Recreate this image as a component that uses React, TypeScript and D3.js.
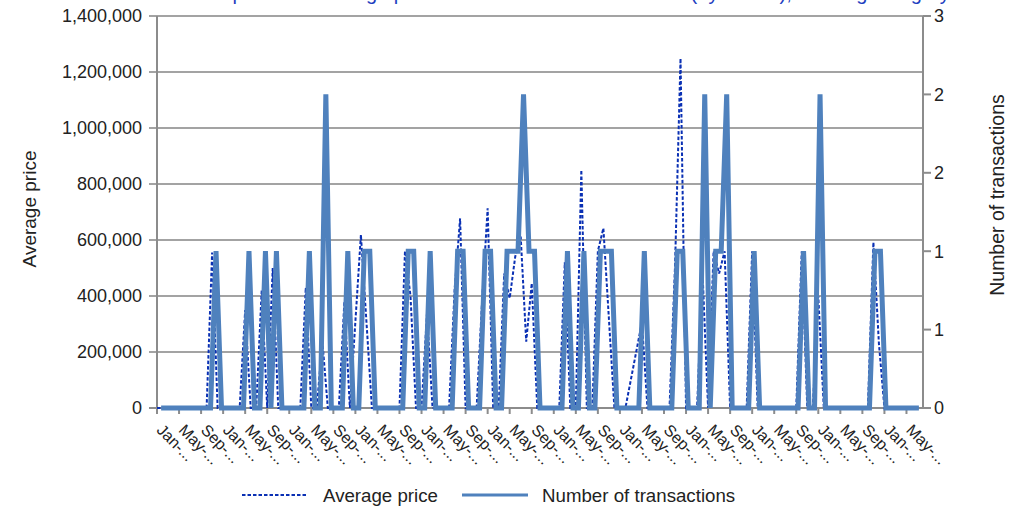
import { useEffect, useRef } from "react";
import * as d3 from "d3";

// Month categories (labels are shown truncated, as in the original)
const monthNames = ["Jan", "Feb", "Mar", "Apr", "May", "Jun", "Jul", "Aug", "Sep", "Oct", "Nov", "Dec"];
const years = ["08", "09", "10", "11", "12", "13", "14", "15", "16", "17", "18", "19"];
const months = years.flatMap((y) => monthNames.map((m) => `${m}-${y}`)).slice(0, 139);

// Number of transactions per month (right axis)
const transactions = [
  0, 0, 0, 0, 0, 0, 0, 0, 0, 0, 1, 0,
  0, 0, 0, 0, 1, 0, 0, 1, 0, 1, 0, 0,
  0, 0, 0, 1, 0, 0, 2, 0, 0, 0, 1, 0,
  0, 1, 1, 0, 0, 0, 0, 0, 0, 1, 1, 0,
  0, 1, 0, 0, 0, 0, 1, 1, 0, 0, 0, 1,
  1, 0, 0, 1, 1, 1, 2, 1, 1, 0, 0, 0,
  0, 0, 1, 0, 0, 1, 0, 0, 1, 1, 1, 0,
  0, 0, 0, 0, 1, 0, 0, 0, 0, 0, 1, 1,
  0, 0, 0, 2, 0, 1, 1, 2, 0, 0, 0, 0,
  1, 0, 0, 0, 0, 0, 0, 0, 0, 1, 0, 0,
  2, 0, 0, 0, 0, 0, 0, 0, 0, 0, 1, 1,
  0, 0, 0, 0, 0, 0, 0,
];

// Average price per month (left axis), null = empty cell (line connects over it)
const avgPrice: (number | null)[] = [
  0, 0, 0, 0, 0, 0, 0, 0, 0, 0, 555000, 0,
  0, 0, 0, 0, 350000, 0, 0, 420000, 0, 500000, 0, 0,
  0, 0, 0, 430000, 0, 0, 240000, 0, 0, 0, 380000, 0,
  null, 618000, 310000, 0, 0, 0, 0, 0, 0, 560000, 400000, 0,
  0, 340000, 0, 0, 0, 0, 420000, 677000, 0, 0, 0, 385000,
  713000, 0, 0, 480000, 392000, 540000, 612000, 237000, 445000, 0, 0, 0,
  0, 0, 520000, 0, 0, 850000, 0, 0, 560000, 642000, 320000, 0,
  0, 0, null, null, 307000, 0, 0, 0, 0, 0, 505000, 1249000,
  0, 0, 0, 480000, 0, 560000, 480000, 560000, 0, 0, 0, 0,
  560000, 0, 0, 0, 0, 0, 0, 0, 0, 560000, 0, 0,
  400000, 0, 0, 0, 0, 0, 0, 0, 0, 0, 592000, 230000,
  0, 0, 0, 0, 0, 0, 0,
];

const priceTicks = [0, 200000, 400000, 600000, 800000, 1000000, 1200000, 1400000];
const countTicks = [0, 0.5, 1, 1.5, 2, 2.5];

const title = "Development of average price and number of transactions (by month), housing category";

const App = () => {
  const ref = useRef<SVGSVGElement | null>(null);

  useEffect(() => {
    const svg = d3.select(ref.current);
    svg.selectAll("*").remove();

    const font = "'Liberation Sans', Arial, Helvetica, sans-serif";
    const left = 157;
    const right = 923;
    const top = 16;
    const bottom = 408;

    const x = d3.scaleBand<string>().domain(months).range([left, right]);
    const xCount = d3.scalePoint<string>().domain(months).range([left, right]).padding(0.75);
    const yPrice = d3.scaleLinear().domain([0, 1400000]).range([bottom, top]);
    const yCount = d3.scaleLinear().domain([0, 2.5]).range([bottom, top]);

    // title, sitting above the top edge as in the original (only descenders show)
    svg
      .append("text")
      .attr("x", 560)
      .attr("y", 0)
      .attr("text-anchor", "middle")
      .attr("font-family", font)
      .attr("font-size", 20)
      .attr("fill", "#1F3FBF")
      .text(title);

    // gridlines (with left tick marks)
    svg
      .append("g")
      .selectAll("line")
      .data(priceTicks)
      .join("line")
      .attr("x1", left - 8)
      .attr("x2", right)
      .attr("y1", (d) => yPrice(d))
      .attr("y2", (d) => yPrice(d))
      .attr("stroke", "#a3a3a3")
      .attr("stroke-width", 2);

    // right tick marks
    svg
      .append("g")
      .selectAll("line")
      .data(countTicks)
      .join("line")
      .attr("x1", right)
      .attr("x2", right + 8)
      .attr("y1", (d) => yCount(d))
      .attr("y2", (d) => yCount(d))
      .attr("stroke", "#8c8c8c")
      .attr("stroke-width", 2);

    // axis lines
    const axisColor = "#8c8c8c";
    svg.append("line").attr("x1", left).attr("x2", left).attr("y1", top).attr("y2", bottom)
      .attr("stroke", axisColor).attr("stroke-width", 2);
    svg.append("line").attr("x1", right).attr("x2", right).attr("y1", top).attr("y2", bottom)
      .attr("stroke", axisColor).attr("stroke-width", 2);
    svg.append("line").attr("x1", left - 8).attr("x2", right + 8).attr("y1", bottom).attr("y2", bottom)
      .attr("stroke", axisColor).attr("stroke-width", 2);

    // x tick marks every 4 months
    const labelled = months.filter((_, i) => i % 4 === 0);
    svg
      .append("g")
      .selectAll("line")
      .data(labelled)
      .join("line")
      .attr("x1", (d) => x(d)!)
      .attr("x2", (d) => x(d)!)
      .attr("y1", bottom)
      .attr("y2", bottom + 6)
      .attr("stroke", axisColor)
      .attr("stroke-width", 2);

    // x labels, rotated and truncated
    svg
      .append("g")
      .selectAll("text")
      .data(labelled)
      .join("text")
      .attr("transform", (d) => `translate(${x(d)! + x.bandwidth() / 2},${bottom + 19}) rotate(45)`)
      .attr("dy", "0.35em")
      .attr("font-family", font)
      .attr("font-size", 16)
      .attr("fill", "#222")
      .text((d) => d.slice(0, 4) + "...");

    // left tick labels
    svg
      .append("g")
      .selectAll("text")
      .data(priceTicks)
      .join("text")
      .attr("x", left - 15)
      .attr("y", (d) => yPrice(d))
      .attr("dy", "0.35em")
      .attr("text-anchor", "end")
      .attr("font-family", font)
      .attr("font-size", 18)
      .attr("fill", "#222")
      .text((d) => d3.format(",")(d));

    // right tick labels
    svg
      .append("g")
      .selectAll("text")
      .data(countTicks)
      .join("text")
      .attr("x", right + 11)
      .attr("y", (d) => yCount(d))
      .attr("dy", "0.35em")
      .attr("font-family", font)
      .attr("font-size", 18)
      .attr("fill", "#222")
      .text((d) => String(Math.round(d)));

    // axis titles
    svg
      .append("text")
      .attr("transform", `translate(36,${(top + bottom) / 2 - 3}) rotate(-90)`)
      .attr("text-anchor", "middle")
      .attr("font-family", font)
      .attr("font-size", 19)
      .attr("fill", "#222")
      .text("Average price");

    svg
      .append("text")
      .attr("transform", `translate(1004,195) rotate(-90)`)
      .attr("text-anchor", "middle")
      .attr("font-family", font)
      .attr("font-size", 19.5)
      .attr("fill", "#222")
      .text("Number of transactions");

    // average price, dotted
    const priceColor = "#0A30B4";
    const pricePoints = months
      .map((m, i) => ({ m, v: avgPrice[i] }))
      .filter((d) => d.v !== null) as { m: string; v: number }[];
    const priceLine = d3
      .line<{ m: string; v: number }>()
      .x((d) => x(d.m)!)
      .y((d) => yPrice(d.v));
    svg
      .append("path")
      .datum(pricePoints)
      .attr("d", priceLine)
      .attr("fill", "none")
      .attr("stroke", priceColor)
      .attr("stroke-width", 2)
      .attr("stroke-dasharray", "3.5 2");

    // number of transactions, thick solid
    const countColor = "#4F81BD";
    const countLine = d3
      .line<number>()
      .x((_, i) => xCount(months[i])!)
      .y((d) => yCount(d));
    svg
      .append("path")
      .datum(transactions)
      .attr("d", countLine)
      .attr("fill", "none")
      .attr("stroke", countColor)
      .attr("stroke-width", 5);

    // legend
    const ly = 495;
    svg.append("line").attr("x1", 242).attr("x2", 308).attr("y1", ly).attr("y2", ly)
      .attr("stroke", priceColor).attr("stroke-width", 2).attr("stroke-dasharray", "3.5 2");
    svg.append("text").attr("x", 323).attr("y", ly).attr("dy", "0.35em")
      .attr("font-family", font).attr("font-size", 18.7).attr("fill", "#222").text("Average price");
    svg.append("line").attr("x1", 462).attr("x2", 528).attr("y1", ly).attr("y2", ly)
      .attr("stroke", countColor).attr("stroke-width", 3);
    svg.append("text").attr("x", 542).attr("y", ly).attr("dy", "0.35em")
      .attr("font-family", font).attr("font-size", 18.7).attr("fill", "#222").text("Number of transactions");
  }, []);

  return (
    <svg
      ref={ref}
      width={1021}
      height={507}
      style={{ position: "absolute", left: 0, top: 0, background: "#fff" }}
    />
  );
};

export default App;
